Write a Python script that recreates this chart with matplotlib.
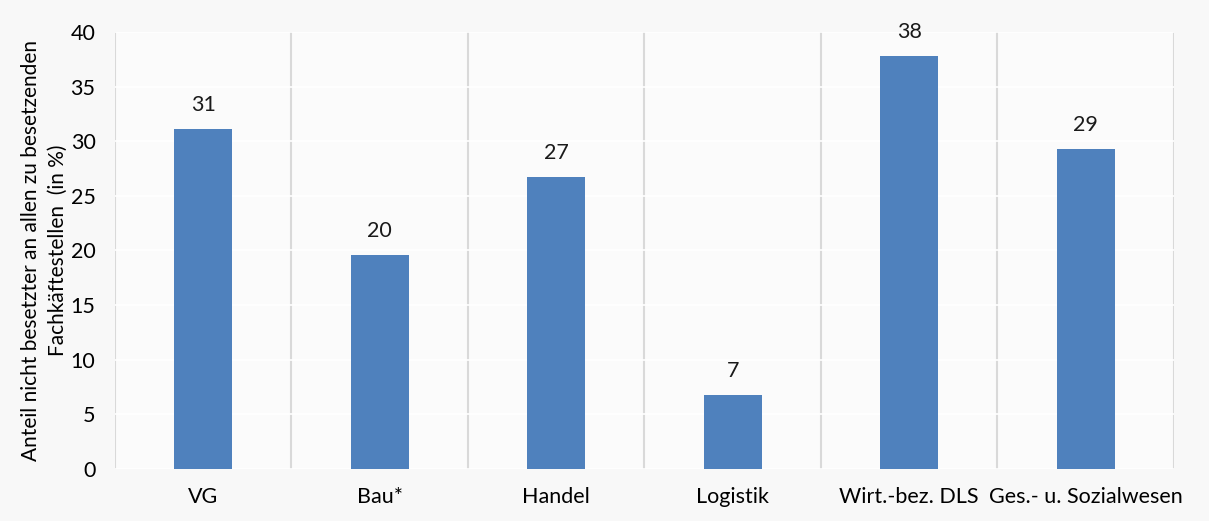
import numpy as np
from matplotlib import pyplot as plt

categories = ["VG", "Bau*", "Handel", "Logistik", "Wirt.-bez. DLS", "Ges.- u. Sozialwesen"]
values = [31.1, 19.6, 26.7, 6.8, 37.8, 29.3]
labels = ["31", "20", "27", "7", "38", "29"]
y_label = "Anteil nicht besetzter an allen zu besetzenden\nFachkäftestellen  (in %)"

plt.rcParams['font.family'] = ['Lato', 'DejaVu Sans']

fig = plt.figure(figsize=(12.09, 5.21), dpi=100, facecolor="#f8f8f8")
ax = fig.add_axes([0.0951, 0.0998, 0.8759, 0.8388])
ax.set_facecolor("#fbfbfb")

x = np.arange(len(categories))
rects = ax.bar(x, values, 0.33, color="#4f81bd", zorder=3)

for rect, lab in zip(rects, labels):
    ax.annotate(lab,
                xy=(rect.get_x() + rect.get_width() / 2, rect.get_height()),
                xytext=(0, 10), textcoords="offset points",
                ha='center', va='bottom', fontsize=15.5, color="#1a1a1a")

ax.set_xlim(-0.5, len(categories) - 0.5)
ax.set_ylim(0, 40)
ax.set_yticks(np.arange(0, 41, 5))
ax.set_xticks(x)
ax.set_xticklabels(categories, fontsize=15.5)
ax.tick_params(axis='y', labelsize=15.5, length=0, pad=14)
ax.tick_params(axis='x', length=0, pad=13)

# vertical separators between categories
ax.set_xticks(np.arange(-0.5, len(categories)), minor=True)
ax.tick_params(axis='x', which='minor', length=0)
ax.grid(axis='x', which='minor', color="#d9d9d9", linewidth=1.5, zorder=1)
ax.grid(axis='y', which='major', color="white", linewidth=1.2, zorder=1)

for side in ["top", "right", "bottom", "left"]:
    ax.spines[side].set_visible(False)

ax.set_ylabel(y_label, fontsize=15, labelpad=2, linespacing=1.45)

plt.savefig("out.png", dpi=100, facecolor=fig.get_facecolor())
plt.close()
